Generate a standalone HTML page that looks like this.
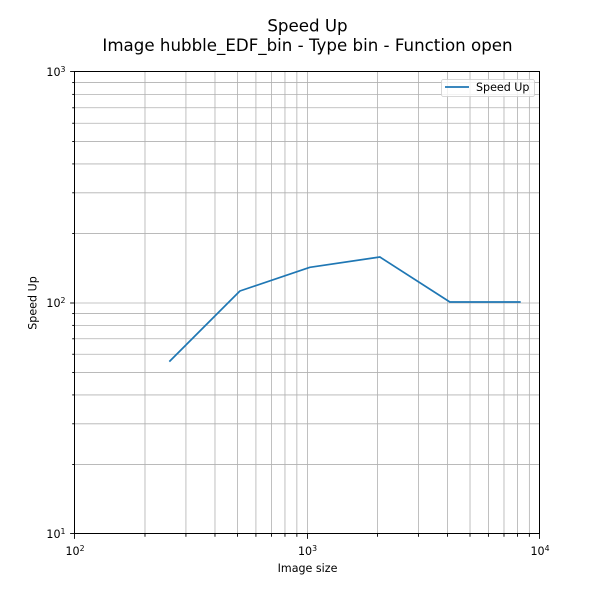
<!DOCTYPE html>
<html>
<head>
<meta charset="utf-8">
<style>
html,body{margin:0;padding:0;background:#fff;}
svg{display:block;}
text{font-family:"DejaVu Sans","Liberation Sans",sans-serif;fill:#000;}
</style>
</head>
<body>
<svg width="600" height="600" viewBox="0 0 600 600" xmlns="http://www.w3.org/2000/svg">
<rect x="0" y="0" width="600" height="600" fill="#fff"/>
<!-- title -->
<text x="307.5" y="31.5" font-size="16.67" text-anchor="middle">Speed Up</text>
<text x="307.5" y="51" font-size="16.67" text-anchor="middle">Image hubble_EDF_bin - Type bin - Function open</text>

<!-- grid -->
<g stroke="#b0b0b0" stroke-width="0.8" fill="none">
<line x1="144.99" y1="72" x2="144.99" y2="534"/>
<line x1="185.93" y1="72" x2="185.93" y2="534"/>
<line x1="214.98" y1="72" x2="214.98" y2="534"/>
<line x1="237.51" y1="72" x2="237.51" y2="534"/>
<line x1="255.92" y1="72" x2="255.92" y2="534"/>
<line x1="271.49" y1="72" x2="271.49" y2="534"/>
<line x1="284.97" y1="72" x2="284.97" y2="534"/>
<line x1="296.86" y1="72" x2="296.86" y2="534"/>
<line x1="307.5" y1="72" x2="307.5" y2="534"/>
<line x1="377.49" y1="72" x2="377.49" y2="534"/>
<line x1="418.43" y1="72" x2="418.43" y2="534"/>
<line x1="447.48" y1="72" x2="447.48" y2="534"/>
<line x1="470.01" y1="72" x2="470.01" y2="534"/>
<line x1="488.42" y1="72" x2="488.42" y2="534"/>
<line x1="503.99" y1="72" x2="503.99" y2="534"/>
<line x1="517.47" y1="72" x2="517.47" y2="534"/>
<line x1="529.36" y1="72" x2="529.36" y2="534"/>
<line x1="75" y1="464.46" x2="540" y2="464.46"/>
<line x1="75" y1="423.79" x2="540" y2="423.79"/>
<line x1="75" y1="394.92" x2="540" y2="394.92"/>
<line x1="75" y1="372.54" x2="540" y2="372.54"/>
<line x1="75" y1="354.25" x2="540" y2="354.25"/>
<line x1="75" y1="338.78" x2="540" y2="338.78"/>
<line x1="75" y1="325.39" x2="540" y2="325.39"/>
<line x1="75" y1="313.57" x2="540" y2="313.57"/>
<line x1="75" y1="303" x2="540" y2="303"/>
<line x1="75" y1="233.46" x2="540" y2="233.46"/>
<line x1="75" y1="192.79" x2="540" y2="192.79"/>
<line x1="75" y1="163.92" x2="540" y2="163.92"/>
<line x1="75" y1="141.54" x2="540" y2="141.54"/>
<line x1="75" y1="123.25" x2="540" y2="123.25"/>
<line x1="75" y1="107.78" x2="540" y2="107.78"/>
<line x1="75" y1="94.39" x2="540" y2="94.39"/>
<line x1="75" y1="82.57" x2="540" y2="82.57"/>
</g>

<!-- data line -->
<polyline points="169.92,361 239.9,291 309.89,267.3 379.88,257 449.87,302 519.86,302" fill="none" stroke="#1f77b4" stroke-width="1.7" stroke-linejoin="round" stroke-linecap="square"/>

<!-- spines -->
<rect x="74.5" y="71.5" width="465" height="462" fill="none" stroke="#000" stroke-width="1"/>

<!-- ticks -->
<g stroke="#000" stroke-width="0.9">
<line x1="74.5" y1="534" x2="74.5" y2="538.9"/>
<line x1="307.5" y1="534" x2="307.5" y2="538.9"/>
<line x1="539.5" y1="534" x2="539.5" y2="538.9"/>
<line x1="144.99" y1="534" x2="144.99" y2="536.8"/>
<line x1="185.93" y1="534" x2="185.93" y2="536.8"/>
<line x1="214.98" y1="534" x2="214.98" y2="536.8"/>
<line x1="237.51" y1="534" x2="237.51" y2="536.8"/>
<line x1="255.92" y1="534" x2="255.92" y2="536.8"/>
<line x1="271.49" y1="534" x2="271.49" y2="536.8"/>
<line x1="284.97" y1="534" x2="284.97" y2="536.8"/>
<line x1="296.86" y1="534" x2="296.86" y2="536.8"/>
<line x1="377.49" y1="534" x2="377.49" y2="536.8"/>
<line x1="418.43" y1="534" x2="418.43" y2="536.8"/>
<line x1="447.48" y1="534" x2="447.48" y2="536.8"/>
<line x1="470.01" y1="534" x2="470.01" y2="536.8"/>
<line x1="488.42" y1="534" x2="488.42" y2="536.8"/>
<line x1="503.99" y1="534" x2="503.99" y2="536.8"/>
<line x1="517.47" y1="534" x2="517.47" y2="536.8"/>
<line x1="529.36" y1="534" x2="529.36" y2="536.8"/>
<line x1="70.1" y1="533.5" x2="75" y2="533.5"/>
<line x1="70.1" y1="303" x2="75" y2="303"/>
<line x1="70.1" y1="71.5" x2="75" y2="71.5"/>
<line x1="72.2" y1="464.46" x2="75" y2="464.46"/>
<line x1="72.2" y1="423.79" x2="75" y2="423.79"/>
<line x1="72.2" y1="394.92" x2="75" y2="394.92"/>
<line x1="72.2" y1="372.54" x2="75" y2="372.54"/>
<line x1="72.2" y1="354.25" x2="75" y2="354.25"/>
<line x1="72.2" y1="338.78" x2="75" y2="338.78"/>
<line x1="72.2" y1="325.39" x2="75" y2="325.39"/>
<line x1="72.2" y1="313.57" x2="75" y2="313.57"/>
<line x1="72.2" y1="233.46" x2="75" y2="233.46"/>
<line x1="72.2" y1="192.79" x2="75" y2="192.79"/>
<line x1="72.2" y1="163.92" x2="75" y2="163.92"/>
<line x1="72.2" y1="141.54" x2="75" y2="141.54"/>
<line x1="72.2" y1="123.25" x2="75" y2="123.25"/>
<line x1="72.2" y1="107.78" x2="75" y2="107.78"/>
<line x1="72.2" y1="94.39" x2="75" y2="94.39"/>
<line x1="72.2" y1="82.57" x2="75" y2="82.57"/>
</g>

<!-- tick labels -->
<g font-size="11.1">
<text x="75" y="555" text-anchor="middle">10<tspan font-size="7.8" dy="-4.2">2</tspan></text>
<text x="307.5" y="555" text-anchor="middle">10<tspan font-size="7.8" dy="-4.2">3</tspan></text>
<text x="540" y="555" text-anchor="middle">10<tspan font-size="7.8" dy="-4.2">4</tspan></text>
<text x="65.5" y="538" text-anchor="end">10<tspan font-size="7.8" dy="-4.2">1</tspan></text>
<text x="65.5" y="307" text-anchor="end">10<tspan font-size="7.8" dy="-4.2">2</tspan></text>
<text x="65.5" y="76" text-anchor="end">10<tspan font-size="7.8" dy="-4.2">3</tspan></text>
</g>

<!-- axis labels -->
<text x="307.5" y="572" font-size="11.1" text-anchor="middle">Image size</text>
<text transform="translate(36.5,303) rotate(-90)" x="0" y="0" font-size="11.1" text-anchor="middle">Speed Up</text>

<!-- legend -->
<rect x="441.5" y="79.5" width="93" height="17" rx="2" ry="2" fill="#fff" fill-opacity="0.8" stroke="#cccccc" stroke-width="0.8"/>
<line x1="445" y1="87" x2="469" y2="87" stroke="#1f77b4" stroke-width="1.7"/>
<text x="476" y="91" font-size="11.1">Speed Up</text>
</svg>
</body>
</html>
